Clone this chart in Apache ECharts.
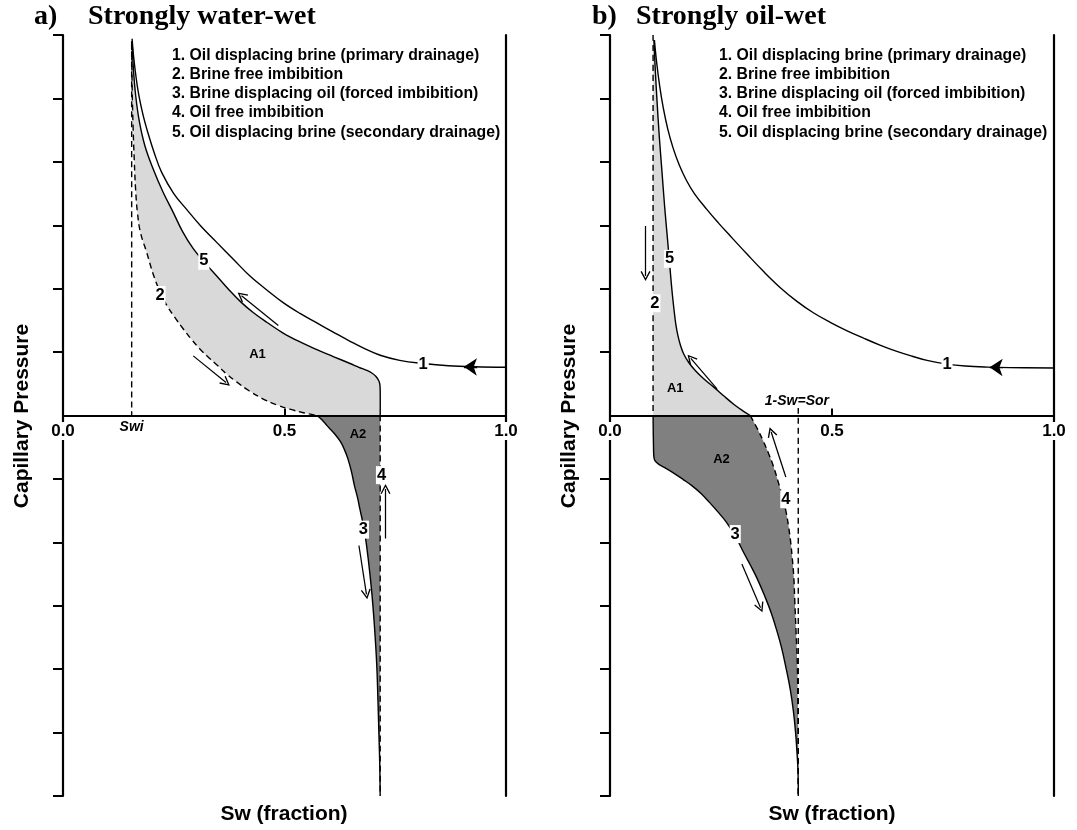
<!DOCTYPE html>
<html>
<head>
<meta charset="utf-8">
<title>Capillary pressure hysteresis</title>
<script src="https://cdn.jsdelivr.net/npm/echarts@6/dist/echarts.min.js"></script>
<style>
  html, body { margin: 0; padding: 0; background: #fff; }
  #chart { width: 1077px; height: 830px; }
</style>
</head>
<body>
<div id="chart"></div>
<script>
// ---------- Panel a: strongly water-wet (Sw, Pc) ----------
const waterSwi = 0.155;          // irreducible water saturation
const waterSorLimit = 0.716;     // 1 - Sor
const waterPrimary = [[0.156,5.94],[0.160,5.62],[0.169,5.14],[0.180,4.76],[0.192,4.45],[0.207,4.12],[0.223,3.83],[0.250,3.50],[0.279,3.25],[0.312,2.98],[0.347,2.73],[0.385,2.46],[0.422,2.20],[0.460,1.98],[0.497,1.78],[0.535,1.61],[0.573,1.46],[0.610,1.315],[0.648,1.17],[0.682,1.05],[0.716,0.95],[0.760,0.87],[0.813,0.82],[0.870,0.785],[0.930,0.768],[1.000,0.76]];
const waterSecondary = [[0.716,0],[0.716,0.40],[0.715,0.50],[0.712,0.56],[0.706,0.62],[0.697,0.67],[0.686,0.71],[0.668,0.76],[0.648,0.82],[0.610,0.93],[0.573,1.04],[0.535,1.16],[0.497,1.30],[0.460,1.47],[0.430,1.62],[0.403,1.78],[0.375,1.98],[0.347,2.20],[0.320,2.41],[0.294,2.63],[0.270,2.90],[0.249,3.20],[0.226,3.52],[0.204,3.88],[0.185,4.25],[0.172,4.65],[0.164,5.05],[0.159,5.45],[0.157,5.75],[0.156,5.90]];
const waterFreeBrine = [[0.155,5.85],[0.156,5.20],[0.158,4.60],[0.161,4.00],[0.164,3.55],[0.168,3.20],[0.175,2.88],[0.189,2.57],[0.204,2.22],[0.219,1.95],[0.234,1.74],[0.252,1.55],[0.272,1.36],[0.290,1.20],[0.309,1.05],[0.328,0.92],[0.347,0.80],[0.370,0.65],[0.392,0.53],[0.420,0.39],[0.452,0.26],[0.482,0.17],[0.512,0.10],[0.545,0.04],[0.573,0]];
const waterForced = [[0.573,0],[0.585,-0.07],[0.596,-0.16],[0.612,-0.28],[0.627,-0.42],[0.636,-0.55],[0.643,-0.68],[0.651,-0.88],[0.658,-1.11],[0.665,-1.30],[0.670,-1.47],[0.676,-1.66],[0.681,-1.84],[0.689,-2.26],[0.697,-2.79],[0.703,-3.32],[0.708,-3.90],[0.711,-4.50],[0.713,-5.00],[0.715,-5.50],[0.716,-6]];
const waterSwiTop = 5.9;

// ---------- Panel b: strongly oil-wet (Sw, Pc) ----------
const oilSwi = 0.097;
const oilSorLimit = 0.424;       // 1 - Sw = Sor
const oilPrimary = [[0.100,5.92],[0.105,5.57],[0.112,5.19],[0.120,4.85],[0.130,4.52],[0.142,4.22],[0.156,3.95],[0.172,3.71],[0.190,3.50],[0.218,3.25],[0.245,3.03],[0.271,2.83],[0.308,2.55],[0.346,2.27],[0.383,2.02],[0.421,1.80],[0.458,1.62],[0.496,1.47],[0.533,1.34],[0.571,1.22],[0.608,1.11],[0.646,1.01],[0.680,0.935],[0.714,0.87],[0.759,0.81],[0.800,0.78],[0.850,0.763],[0.900,0.755],[1.000,0.75]];
const oilSecondary = [[0.316,0],[0.300,0.07],[0.280,0.17],[0.256,0.31],[0.235,0.44],[0.211,0.58],[0.192,0.71],[0.177,0.84],[0.166,0.97],[0.159,1.10],[0.153,1.26],[0.148,1.45],[0.144,1.68],[0.140,1.94],[0.136,2.25],[0.132,2.58],[0.128,2.90],[0.123,3.30],[0.117,3.85],[0.111,4.40],[0.106,4.95],[0.102,5.45],[0.099,5.92]];
const oilForced = [[0.097,0],[0.098,-0.50],[0.099,-0.66],[0.102,-0.72],[0.110,-0.77],[0.125,-0.83],[0.146,-0.92],[0.165,-1.01],[0.185,-1.11],[0.205,-1.23],[0.224,-1.37],[0.243,-1.52],[0.262,-1.68],[0.282,-1.90],[0.301,-2.16],[0.317,-2.37],[0.332,-2.58],[0.348,-2.84],[0.363,-3.11],[0.376,-3.40],[0.387,-3.68],[0.397,-4.00],[0.406,-4.32],[0.413,-4.66],[0.418,-5.00],[0.421,-5.30],[0.423,-5.53],[0.424,-5.80],[0.424,-6]];
const oilFreeOil = [[0.316,0],[0.322,-0.08],[0.332,-0.21],[0.345,-0.40],[0.356,-0.58],[0.368,-0.80],[0.379,-1.05],[0.389,-1.30],[0.396,-1.50],[0.402,-1.74],[0.407,-2.00],[0.410,-2.21],[0.414,-2.55],[0.416,-2.89],[0.419,-3.40],[0.422,-3.95],[0.423,-4.50],[0.424,-5.00],[0.424,-6]];
const oilSwiTop = 6;

// ---------- Axis ranges and tick labels ----------
const swTicks = [0, 0.5, 1.0];
const pcMin = -6, pcMax = 6;
const pcTickValues = [-6,-5,-4,-3,-2,-1,1,2,3,4,5,6];

// ---------- Annotations (data units) ----------
const legendLines = [
  '1. Oil displacing brine (primary drainage)',
  '2. Brine free imbibition',
  '3. Brine displacing oil (forced imbibition)',
  '4. Oil free imbibition',
  '5. Oil displacing brine (secondary drainage)'
];
const waterCurveTags = [[0.813,0.81,'1'],[0.219,1.90,'2'],[0.678,-1.80,'3'],[0.719,-0.94,'4'],[0.318,2.44,'5']];
const oilCurveTags = [[0.759,0.81,'1'],[0.101,1.77,'2'],[0.282,-1.87,'3'],[0.396,-1.32,'4'],[0.134,2.47,'5']];
const waterAreaTags = [[0.439,0.96,'A1'],[0.666,-0.30,'A2']];
const oilAreaTags = [[0.147,0.42,'A1'],[0.251,-0.70,'A2']];
const waterSatTags = [[0.155,-0.19,'Swi']];
const oilSatTags = [[0.421,0.22,'1-Sw=Sor']];
const waterArrows = [
  [[0.486,1.42],[0.403,1.89]],
  [[0.294,0.94],[0.368,0.52]],
  [[0.668,-2.05],[0.685,-2.82]],
  [[0.728,-1.94],[0.728,-1.16]]
];
const oilArrows = [
  [[0.241,0.42],[0.182,0.90]],
  [[0.080,2.99],[0.080,2.20]],
  [[0.297,-2.34],[0.339,-3.03]],
  [[0.396,-0.97],[0.363,-0.26]]
];
const waterPrimaryHead = [[0.935,0.765],[0.905,0.767]];
const oilPrimaryHead = [[0.885,0.757],[0.855,0.760]];

// ---------- Styling ----------
const SANS = '"Liberation Sans", Arial, Helvetica, sans-serif';
const SERIF = '"Liberation Serif", "Times New Roman", serif';
const LIGHT = '#d9d9d9';
const DARK = '#808080';
const CHEVRON = 'path://M5,0 L10,10 L8.8,10.7 L5,3 L1.2,10.7 L0,10 Z';
const SMOOTH = 0.4;

// Cubic Bezier segments through pixel points (Catmull-Rom style tangents).
function bezierThrough(px) {
  const n = px.length;
  const cps = [];
  for (let i = 0; i < n; i++) {
    if (i === 0 || i === n - 1) { cps.push(px[i]); continue; }
    const a = px[i - 1], p = px[i], b = px[i + 1];
    const vx = (b[0] - a[0]) * SMOOTH, vy = (b[1] - a[1]) * SMOOTH;
    let d0 = Math.hypot(p[0] - a[0], p[1] - a[1]);
    let d1 = Math.hypot(p[0] - b[0], p[1] - b[1]);
    const s = d0 + d1;
    if (s) { d0 /= s; d1 /= s; }
    cps.push([p[0] - vx * d0, p[1] - vy * d0]);
    cps.push([p[0] + vx * d1, p[1] + vy * d1]);
  }
  let d = '';
  for (let i = 0; i < n - 1; i++) {
    const c0 = cps[2 * i], c1 = cps[2 * i + 1], q = px[i + 1];
    d += ' C' + c0[0] + ',' + c0[1] + ' ' + c1[0] + ',' + c1[1] + ' ' + q[0] + ',' + q[1];
  }
  return d;
}

// A custom series drawing smooth curves (stroke) or closed regions (fill).
function pathSeries(pieces, xi, yi, style, z) {
  return {
    type: 'custom', xAxisIndex: xi, yAxisIndex: yi, data: [pieces[0][0]],
    silent: true, z: z, clip: false,
    renderItem: (params, api) => {
      let d = '';
      pieces.forEach((piece, k) => {
        const px = piece.map(p => api.coord(p));
        d += (k === 0 ? 'M' : ' L') + px[0][0] + ',' + px[0][1] + bezierThrough(px);
      });
      if (style.fill !== 'none') d += ' Z';
      return { type: 'path', shape: { pathData: d }, style: style };
    }
  };
}
function curve(points, xi, yi, dashed) {
  return pathSeries([points], xi, yi, {
    fill: 'none', stroke: '#000', lineWidth: 1.4, lineDash: dashed ? [6, 4] : null, lineJoin: 'round'
  }, 3);
}
function region(pieces, xi, yi, color) {
  return pathSeries(pieces, xi, yi, { fill: color, stroke: null }, 1);
}
function arrows(list, xi, yi, head, size) {
  return {
    type: 'lines', coordinateSystem: 'cartesian2d', xAxisIndex: xi, yAxisIndex: yi,
    data: list.map(c => ({ coords: c })), silent: true, z: 4,
    symbol: ['none', head], symbolSize: size,
    lineStyle: { color: '#000', width: 1.25, opacity: 1, curveness: 0 },
    itemStyle: { color: '#000' }
  };
}
function labelSeries(points, xi, yi, label) {
  return {
    type: 'scatter', xAxisIndex: xi, yAxisIndex: yi, silent: true, z: 10, zlevel: 0,
    symbolSize: 1, itemStyle: { color: 'rgba(0,0,0,0)', opacity: 1 },
    emphasis: { disabled: true },
    labelLayout: { hideOverlap: false },
    data: points,
    label: Object.assign({ show: true, color: '#000', opacity: 1, fontFamily: SANS, fontWeight: 'bold' }, label)
  };
}
function tags(list, xi, yi, font) {
  return labelSeries(list.map(t => ({ value: [t[0], t[1]], name: t[2] })), xi, yi,
    Object.assign({ position: 'inside', formatter: '{b}' }, font));
}
function tickLabels(xi, yi) {
  return labelSeries(swTicks.map(v => [v, 0]), xi, yi, {
    position: 'bottom', distance: 6, fontSize: 17, backgroundColor: '#fff', padding: [1, 1, 0, 1],
    formatter: p => p.value[0].toFixed(1)
  });
}
const numberFont = { fontSize: 16.5, backgroundColor: '#fff', padding: [1, 1, 0, 1] };
const areaFont = { fontSize: 13 };
const satFont = { fontSize: 14, fontStyle: 'italic', backgroundColor: '#fff', padding: [0, 2] };
const satFontPlain = { fontSize: 14, fontStyle: 'italic' };

function xAxisFor(grid) {
  return {
    gridIndex: grid, type: 'value', min: 0, max: 1, interval: 0.5, z: 2,
    axisLine: { show: true, onZero: true, lineStyle: { color: '#000', width: 2.2 } },
    axisTick: { show: true, inside: true, length: 7, lineStyle: { color: '#000', width: 2 } },
    axisLabel: { show: false },
    splitLine: { show: false }
  };
}
function yAxisFor(grid, side) {
  const left = side === 'left';
  return {
    gridIndex: grid, type: 'value', min: pcMin, max: pcMax, interval: 1, position: side, z: 2,
    axisLine: { show: true, onZero: false, lineStyle: { color: '#000', width: 2.2 } },
    axisTick: left
      ? { show: true, inside: false, length: 10, customValues: pcTickValues, lineStyle: { color: '#000', width: 2 } }
      : { show: false },
    axisLabel: { show: false },
    splitLine: { show: false }
  };
}

function panelTexts(axisTitleX, sweptX, letter, letterX, title, titleX, legendX) {
  return [
    { type: 'text', x: letterX, y: 17, style: { text: letter, font: 'bold 28px ' + SERIF, fill: '#000', textVerticalAlign: 'middle' } },
    { type: 'text', x: titleX, y: 17, style: { text: title, font: 'bold 28px ' + SERIF, fill: '#000', textVerticalAlign: 'middle' } },
    { type: 'text', x: legendX, y: 45.5, style: { text: legendLines.join('\n'), font: 'bold 15.8px ' + SANS, lineHeight: 19.3, fill: '#000', textVerticalAlign: 'top' } },
    { type: 'text', x: axisTitleX, y: 416, rotation: Math.PI / 2, style: { text: 'Capillary Pressure', font: 'bold 21px ' + SANS, fill: '#000', textAlign: 'center', textVerticalAlign: 'middle' } },
    { type: 'text', x: sweptX, y: 814, style: { text: 'Sw (fraction)', font: 'bold 21px ' + SANS, fill: '#000', textAlign: 'center', textVerticalAlign: 'middle' } }
  ];
}

const chart = echarts.init(document.getElementById('chart'), null, { renderer: 'canvas' });
chart.setOption({
  animation: false,
  backgroundColor: '#fff',
  grid: [
    { left: 63, right: 571, top: 35, bottom: 34, containLabel: false, outerBoundsMode: 'none' },
    { left: 610, right: 23, top: 35, bottom: 34, containLabel: false, outerBoundsMode: 'none' }
  ],
  xAxis: [xAxisFor(0), xAxisFor(1)],
  yAxis: [yAxisFor(0, 'left'), yAxisFor(0, 'right'), yAxisFor(1, 'left'), yAxisFor(1, 'right')],
  graphic: [
    ...panelTexts(22, 284, 'a)', 34, 'Strongly water-wet', 88, 172),
    ...panelTexts(569, 832, 'b)', 592, 'Strongly oil-wet', 636, 719)
  ],
  series: [
    // panel a
    region([waterSecondary, waterFreeBrine], 0, 0, LIGHT),
    region([waterForced, [[waterSorLimit, pcMin], [waterSorLimit, 0]]], 0, 0, DARK),
    curve([[waterSwi, waterSwiTop], [waterSwi, 0]], 0, 0, true),
    curve(waterPrimary, 0, 0, false),
    curve(waterSecondary, 0, 0, false),
    curve(waterFreeBrine, 0, 0, true),
    curve(waterForced, 0, 0, false),
    curve([[waterSorLimit, 0], [waterSorLimit, pcMin]], 0, 0, true),
    arrows(waterArrows, 0, 0, CHEVRON, [9, 10]),
    arrows([waterPrimaryHead], 0, 0, 'arrow', [9, 13]),
    tickLabels(0, 0),
    tags(waterCurveTags, 0, 0, numberFont),
    tags(waterAreaTags, 0, 0, areaFont),
    tags(waterSatTags, 0, 0, satFont),
    // panel b
    region([oilSecondary, [[oilSwi, oilSwiTop - 0.08], [oilSwi, 0]]], 1, 2, LIGHT),
    region([oilForced, oilFreeOil.slice().reverse()], 1, 2, DARK),
    curve([[oilSwi, oilSwiTop], [oilSwi, 0]], 1, 2, true),
    curve(oilPrimary, 1, 2, false),
    curve(oilSecondary, 1, 2, false),
    curve(oilForced, 1, 2, false),
    curve(oilFreeOil, 1, 2, true),
    curve([[oilSorLimit, 0.12], [oilSorLimit, pcMin]], 1, 2, true),
    arrows(oilArrows, 1, 2, CHEVRON, [9, 10]),
    arrows([oilPrimaryHead], 1, 2, 'arrow', [9, 13]),
    tickLabels(1, 2),
    tags(oilCurveTags, 1, 2, numberFont),
    tags(oilAreaTags, 1, 2, areaFont),
    tags(oilSatTags, 1, 2, satFontPlain)
  ]
});
</script>
</body>
</html>
